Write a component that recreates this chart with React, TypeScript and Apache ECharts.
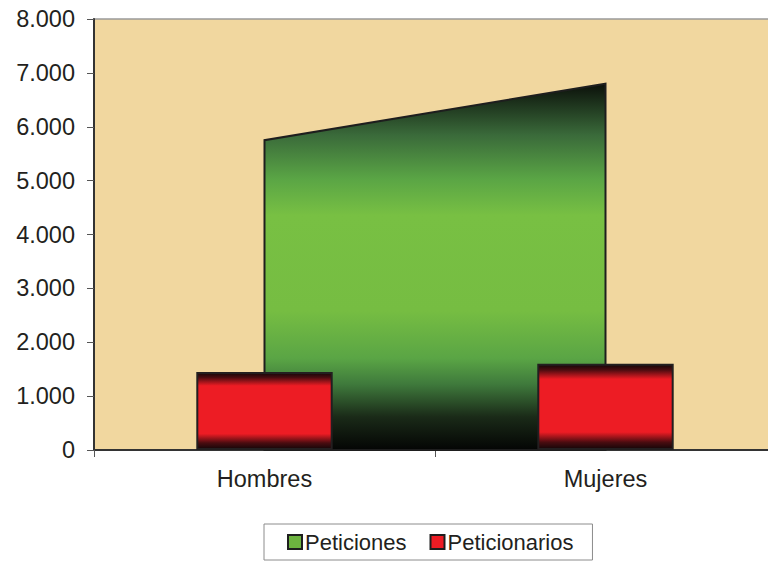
import React, { useEffect, useRef } from "react";
import * as echarts from "echarts";

const categories = ["Hombres", "Mujeres"];
const peticiones = [5750, 6800];
const peticionarios = [1450, 1600];
const yTicks = { min: 0, max: 8000, interval: 1000 };

const fmt = (v: number) => {
  if (v === 0) return "0";
  const s = String(Math.round(v));
  return s.replace(/\B(?=(\d{3})+(?!\d))/g, ".");
};

export default function App() {
  const ref = useRef<HTMLDivElement>(null);
  useEffect(() => {
    if (!ref.current) return;
    const chart = echarts.init(ref.current, null, { renderer: "svg" });
    const greenGrad = new echarts.graphic.LinearGradient(0, 0, 0, 1, [
      { offset: 0, color: "#0b100a" },
      { offset: 0.14, color: "#3a6a3a" },
      { offset: 0.26, color: "#5aa545" },
      { offset: 0.36, color: "#78c043" },
      { offset: 0.62, color: "#76bd42" },
      { offset: 0.75, color: "#5aa545" },
      { offset: 0.82, color: "#3f7a3c" },
      { offset: 0.91, color: "#1a2a18" },
      { offset: 1, color: "#040504" },
    ]);
    const redGrad = new echarts.graphic.LinearGradient(0, 0, 0, 1, [
      { offset: 0, color: "#140608" },
      { offset: 0.06, color: "#4a0c10" },
      { offset: 0.17, color: "#ed1c24" },
      { offset: 0.8, color: "#ed1c24" },
      { offset: 0.92, color: "#4a0c10" },
      { offset: 1, color: "#140608" },
    ]);
    const font = "'Liberation Sans', Arial, sans-serif";
    chart.setOption({
      animation: false,
      textStyle: { fontFamily: font },
      grid: {
        left: 94,
        top: 19,
        height: 431,
        width: 682,
        containLabel: false,
        outerBoundsMode: "none",
        show: true,
        backgroundColor: "#f1d79f",
        borderColor: "#9a9a9a",
        borderWidth: 1.5,
      },
      legend: {
        left: 264,
        top: 524,
        borderColor: "#8c8c8c",
        borderWidth: 1,
        padding: [7, 19, 7, 23],
        itemWidth: 14,
        itemHeight: 14,
        itemGap: 23,
        icon: "rect",
        textStyle: { fontSize: 22, color: "#231f20", fontFamily: font, padding: [0, 0, 0, -2] },
        data: [
          {
            name: "Peticiones",
            itemStyle: { color: "#6db33f", borderColor: "#1e1e1e", borderWidth: 2 },
          },
          {
            name: "Peticionarios",
            itemStyle: { color: "#ed1c24", borderColor: "#1e1e1e", borderWidth: 2 },
          },
        ],
      },
      xAxis: {
        type: "category",
        data: categories,
        boundaryGap: true,
        axisLine: { lineStyle: { color: "#333", width: 2 } },
        axisTick: { show: true, length: 7, lineStyle: { color: "#555" } },
        axisLabel: { fontSize: 23.5, color: "#231f20", margin: 17, fontFamily: font },
        splitLine: { show: false },
      },
      yAxis: {
        type: "value",
        min: yTicks.min,
        max: yTicks.max,
        interval: yTicks.interval,
        axisLine: { show: true, lineStyle: { color: "#333", width: 2 } },
        axisTick: { show: true, length: 7, lineStyle: { color: "#555" } },
        axisLabel: { fontSize: 23.5, color: "#231f20", margin: 19, formatter: fmt, fontFamily: font },
        splitLine: { show: false },
      },
      series: [
        {
          name: "Peticiones",
          type: "custom",
          z: 1,
          itemStyle: { color: "#6db33f" },
          data: peticiones.map((v, i) => [i, v]),
          renderItem: (params: any, api: any) => {
            const i = params.dataIndex;
            if (i >= peticiones.length - 1) return null;
            const p0 = api.coord([i, 0]);
            const p1 = api.coord([i, peticiones[i]]);
            const p2 = api.coord([i + 1, peticiones[i + 1]]);
            const p3 = api.coord([i + 1, 0]);
            return {
              type: "polygon",
              shape: { points: [p0, p1, p2, p3] },
              style: { fill: greenGrad, stroke: "#1e1e1e", lineWidth: 2 },
            };
          },
        },
        {
          name: "Peticionarios",
          type: "bar",
          z: 3,
          barWidth: "40%",
          data: peticionarios,
          itemStyle: { color: redGrad, borderColor: "#231f20", borderWidth: 2 },
        },
      ],
    });
    return () => chart.dispose();
  }, []);
  return <div ref={ref} style={{ width: 768, height: 563, position: "absolute", left: 0, top: 0 }} />;
}
